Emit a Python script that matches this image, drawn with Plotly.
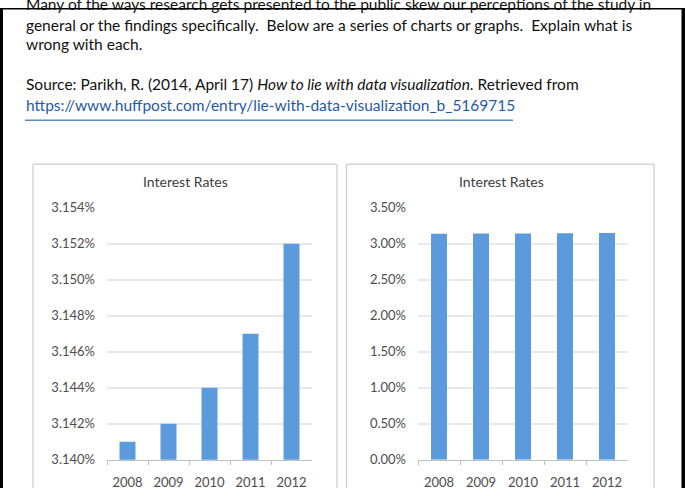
import plotly.graph_objects as go

W, H = 685, 496

years = ["2008", "2009", "2010", "2011", "2012"]
rates = [3.141, 3.142, 3.144, 3.147, 3.152]
chart_title = "Interest Rates"
left_ticks = [3.140, 3.142, 3.144, 3.146, 3.148, 3.150, 3.152, 3.154]
left_labels = ["3.140%", "3.142%", "3.144%", "3.146%", "3.148%", "3.150%", "3.152%", "3.154%"]
right_ticks = [0.0, 0.5, 1.0, 1.5, 2.0, 2.5, 3.0, 3.5]
right_labels = ["0.00%", "0.50%", "1.00%", "1.50%", "2.00%", "2.50%", "3.00%", "3.50%"]

text_lines = [
    "Many of the ways research gets presented to the public skew our perceptions of the study in",
    "general or the findings specifically.\u00a0 Below are a series of charts or graphs.\u00a0 Explain what is",
    "wrong with each.",
    "Source: Parikh, R. (2014, April 17) <i>How to lie with data visualization</i>. Retrieved from",
]
url_text = "https://www.huffpost.com/entry/lie-with-data-visualization_b_5169715"

BAR = "#5b9bdc"
GRID = "#e9e9e9"
AX = "#bfbfbf"
TICKC = "#4d4d4d"
FONT = "Lato"


def px(x):
    return x / W


def py(y):
    return 1 - y / H


fig = go.Figure()
fig.add_trace(go.Bar(x=years, y=rates, marker=dict(color=BAR, line=dict(width=0)),
                     width=0.39, xaxis="x", yaxis="y", showlegend=False))
fig.add_trace(go.Bar(x=years, y=rates, marker=dict(color=BAR, line=dict(width=0)),
                     width=0.38, xaxis="x2", yaxis="y2", showlegend=False))

ydom = [py(466.7), py(206.5)]
common_x = dict(type="category", showline=True, linecolor=AX, linewidth=1,
                ticks="outside", ticklen=4, tickcolor=AX, tickson="boundaries",
                showgrid=False, tickfont=dict(family=FONT, size=13, color=TICKC),
                ticklabelstandoff=11, fixedrange=True)
common_y = dict(showgrid=True, gridcolor=GRID, gridwidth=1.5, zeroline=False,
                showline=False, ticks="", tickfont=dict(family=FONT, size=13, color=TICKC),
                ticklabelstandoff=11, fixedrange=True)

fig.update_layout(
    width=W, height=H, margin=dict(l=0, r=0, t=0, b=0),
    paper_bgcolor="white", plot_bgcolor="white", bargap=0.6,
    xaxis=dict(domain=[px(107), px(312)], anchor="y", **common_x),
    yaxis=dict(domain=ydom, anchor="x", range=[3.140, 3.154], tickvals=left_ticks,
               ticktext=left_labels, **common_y),
    xaxis2=dict(domain=[px(418), px(628)], anchor="y2", **common_x),
    yaxis2=dict(domain=ydom, anchor="x2", range=[0, 3.5], tickvals=right_ticks,
                ticktext=right_labels, **common_y),
)

shapes = []
BOX = dict(color="#d6d6d6", width=1.5)
# chart boxes (left, top, right edges; bottom runs off the page)
for x0, x1 in [(33, 337), (346.5, 654)]:
    shapes.append(dict(type="line", xref="paper", yref="paper", x0=px(x0), x1=px(x0),
                       y0=0, y1=py(161.5), line=BOX, layer="below"))
    shapes.append(dict(type="line", xref="paper", yref="paper", x0=px(x1), x1=px(x1),
                       y0=0, y1=py(161.5), line=BOX, layer="below"))
    shapes.append(dict(type="line", xref="paper", yref="paper", x0=px(x0), x1=px(x1),
                       y0=py(161.5), y1=py(161.5), line=BOX, layer="below"))
# page frame
shapes.append(dict(type="rect", xref="paper", yref="paper", x0=0, x1=px(3), y0=0, y1=1,
                   line=dict(width=0), fillcolor="black", layer="above"))
shapes.append(dict(type="rect", xref="paper", yref="paper", x0=px(681.5), x1=1, y0=0, y1=1,
                   line=dict(width=0), fillcolor="black", layer="above"))
shapes.append(dict(type="rect", xref="paper", yref="paper", x0=0, x1=1, y0=py(1.5), y1=1,
                   line=dict(width=0), fillcolor="black", layer="above"))
# url underline
shapes.append(dict(type="line", xref="paper", yref="paper", x0=px(25), x1=px(513),
                   y0=py(116), y1=py(116), line=dict(color="#5f89b5", width=1.5)))
fig.update_layout(shapes=shapes)

annotations = []
line_baselines = [7, 29, 49, 90]
TFS = 15.5
OFF = 11.5
for txt, b in zip(text_lines, line_baselines):
    annotations.append(dict(text=txt, xref="paper", yref="paper", x=px(24), y=py(b - OFF),
                            xanchor="left", yanchor="middle", showarrow=False,
                            font=dict(family=FONT, size=TFS, color="#111111")))
annotations.append(dict(text=url_text, xref="paper", yref="paper", x=px(24), y=py(111.5 - OFF),
                        xanchor="left", yanchor="middle", showarrow=False,
                        font=dict(family=FONT, size=TFS, color="#1f5aa6")))
for cx in [185, 501]:
    annotations.append(dict(text=chart_title, xref="paper", yref="paper", x=px(cx), y=py(179),
                            xanchor="center", yanchor="middle", showarrow=False,
                            font=dict(family=FONT, size=14, color="#404040")))
fig.update_layout(annotations=annotations)

fig.write_html("out.html")
